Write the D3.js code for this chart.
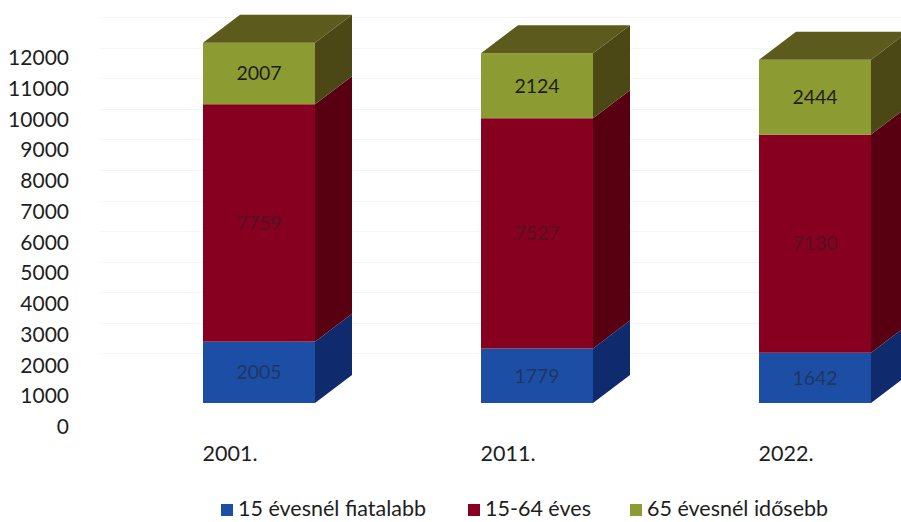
<!DOCTYPE html>
<html>
<head>
<meta charset="utf-8">
<script src="https://cdn.jsdelivr.net/npm/d3@7"></script>
<style>
  html, body { margin: 0; padding: 0; background: #fff; }
  svg { display: block; font-family: Lato, "Open Sans", sans-serif; }
</style>
</head>
<body>
<svg id="chart" width="901" height="522"></svg>
<script>
// Population by age group, census years
const years = ["2001.", "2011.", "2022."];
const seriesNames = ["15 évesnél fiatalabb", "15-64 éves", "65 évesnél idősebb"];
const young = [2005, 1779, 1642];
const working = [7759, 7527, 7130];
const elderly = [2007, 2124, 2444];
const yTicks = [0, 1000, 2000, 3000, 4000, 5000, 6000, 7000, 8000, 9000, 10000, 11000, 12000];

// Face colours per series: front, side, top
const palette = [
  { front: "#1c4ea6", side: "#0f2b6e", top: "#173f8a" },
  { front: "#870020", side: "#580012", top: "#6e0019" },
  { front: "#8d9b33", side: "#4b4816", top: "#5c5b1d" }
];

const svg = d3.select("#chart");
const W = 901, H = 522;

// 3D geometry
const barW = 112;
const depthX = 37, depthY = -28;

const x = d3.scalePoint().domain(years).range([259, 815]);
const yBar = d3.scaleLinear().domain([0, 12000]).range([403, 403 - 367.2]);
const yAxis = d3.scaleLinear().domain([0, 12000]).range([427, 58]);
const yWall = d3.scaleLinear().domain([0, 12000]).range([384, 17]);

// faint back-wall gridlines
svg.append("g").selectAll("line")
  .data(yTicks.slice(1))
  .join("line")
  .attr("x1", 100).attr("x2", W)
  .attr("y1", d => Math.round(yWall(d)) + 0.5)
  .attr("y2", d => Math.round(yWall(d)) + 0.5)
  .attr("stroke", "#f5f5f5")
  .attr("stroke-width", 1);

// y axis labels
const axis = d3.axisLeft(yAxis).tickValues(yTicks).tickSize(0).tickPadding(0).tickFormat(d3.format("d"));
const gAxis = svg.append("g").attr("transform", "translate(69,0)").call(axis);
gAxis.select(".domain").remove();
gAxis.selectAll("text")
  .attr("font-family", "Lato, sans-serif")
  .attr("font-size", 21)
  .attr("fill", "#1e1e1e");

// stacked data
const table = years.map((yr, i) => ({ year: yr, v0: young[i], v1: working[i], v2: elderly[i] }));
const stack = d3.stack().keys(["v0", "v1", "v2"])(table);

const bars = svg.append("g");
table.forEach((row, i) => {
  const cx = x(row.year);
  const x0 = cx - barW / 2, x1 = cx + barW / 2;
  const g = bars.append("g");
  stack.forEach((layer, k) => {
    const d = layer[i];
    const yb = yBar(d[0]), yt = yBar(d[1]);
    const col = palette[k];
    // side face
    g.append("path")
      .attr("d", `M${x1},${yb} L${x1 + depthX},${yb + depthY} L${x1 + depthX},${yt + depthY} L${x1},${yt} Z`)
      .attr("fill", col.side);
    // front face
    g.append("rect")
      .attr("x", x0).attr("y", yt)
      .attr("width", barW).attr("height", yb - yt)
      .attr("fill", col.front);
    // top face on the highest segment
    if (k === stack.length - 1) {
      g.append("path")
        .attr("d", `M${x0},${yt} L${x0 + depthX},${yt + depthY} L${x1 + depthX},${yt + depthY} L${x1},${yt} Z`)
        .attr("fill", col.top);
    }
    // value label
    g.append("text")
      .attr("x", cx)
      .attr("y", (yb + yt) / 2)
      .attr("dy", "0.35em")
      .attr("text-anchor", "middle")
      .attr("font-size", 19.5)
      .attr("fill", k === 2 ? "#151515" : "#222")
      .attr("fill-opacity", k === 2 ? 0.95 : 0.55)
      .text(d.data["v" + k]);
  });
});

// category labels
svg.append("g").selectAll("text")
  .data(years)
  .join("text")
  .attr("x", d => x(d) - 29)
  .attr("y", 461)
  .attr("text-anchor", "middle")
  .attr("font-size", 21.5)
  .attr("fill", "#1e1e1e")
  .text(d => d);

// legend
const legendX = [221, 468, 630];
const legend = svg.append("g");
seriesNames.forEach((name, k) => {
  legend.append("rect")
    .attr("x", legendX[k]).attr("y", 504)
    .attr("width", 12).attr("height", 12)
    .attr("fill", palette[k].front);
  legend.append("text")
    .attr("x", legendX[k] + 17).attr("y", 516)
    .attr("font-size", 21.5)
    .attr("fill", "#1e1e1e")
    .text(name);
});
</script>
</body>
</html>
